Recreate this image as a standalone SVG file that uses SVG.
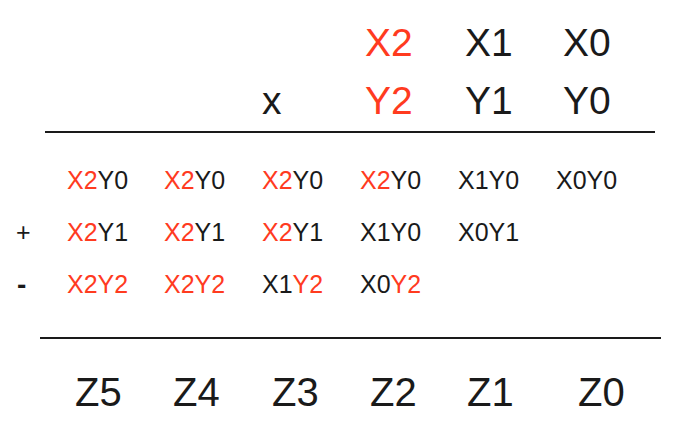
<svg xmlns="http://www.w3.org/2000/svg" width="686" height="432" viewBox="0 0 686 432">
<style>
text{font-family:"Liberation Sans",Arial,sans-serif;fill:#1a1a1a}
.big{font-size:39px}
.z{font-size:40px}
.s{font-size:25px}
.r{fill:#ff3b1f}
.minus{font-size:28px;font-weight:bold}
line{stroke:#1a1a1a;stroke-width:2}
</style>
<rect width="686" height="432" fill="#fff"/>
<g id="operands">
<text class="big r" x="365" y="56">X2</text>
<text class="big" x="465" y="56">X1</text>
<text class="big" x="563" y="56">X0</text>
<text class="big" x="262" y="114">x</text>
<text class="big r" x="365" y="114">Y2</text>
<text class="big" x="465" y="114">Y1</text>
<text class="big" x="563" y="114">Y0</text>
</g>
<g id="rules">
<line x1="45" y1="132" x2="655" y2="132"/>
<line x1="40" y1="338" x2="661" y2="338"/>
</g>
<g id="partials">
<text class="s" x="67" y="189"><tspan class="r">X2</tspan>Y0</text>
<text class="s" x="164" y="189"><tspan class="r">X2</tspan>Y0</text>
<text class="s" x="262" y="189"><tspan class="r">X2</tspan>Y0</text>
<text class="s" x="360" y="189"><tspan class="r">X2</tspan>Y0</text>
<text class="s" x="458" y="189">X1Y0</text>
<text class="s" x="556" y="189">X0Y0</text>
<text class="s" x="16" y="241">+</text>
<text class="s" x="67" y="241"><tspan class="r">X2</tspan>Y1</text>
<text class="s" x="164" y="241"><tspan class="r">X2</tspan>Y1</text>
<text class="s" x="262" y="241"><tspan class="r">X2</tspan>Y1</text>
<text class="s" x="360" y="241">X1Y0</text>
<text class="s" x="458" y="241">X0Y1</text>
<text class="minus" x="17" y="294">-</text>
<text class="s r" x="67" y="293">X2Y2</text>
<text class="s r" x="164" y="293">X2Y2</text>
<text class="s" x="262" y="293">X1<tspan class="r">Y2</tspan></text>
<text class="s" x="360" y="293">X0<tspan class="r">Y2</tspan></text>
</g>
<g id="result">
<text class="z" x="75" y="406">Z5</text>
<text class="z" x="173" y="406">Z4</text>
<text class="z" x="272" y="406">Z3</text>
<text class="z" x="370" y="406">Z2</text>
<text class="z" x="467" y="406">Z1</text>
<text class="z" x="578" y="406">Z0</text>
</g>
</svg>
